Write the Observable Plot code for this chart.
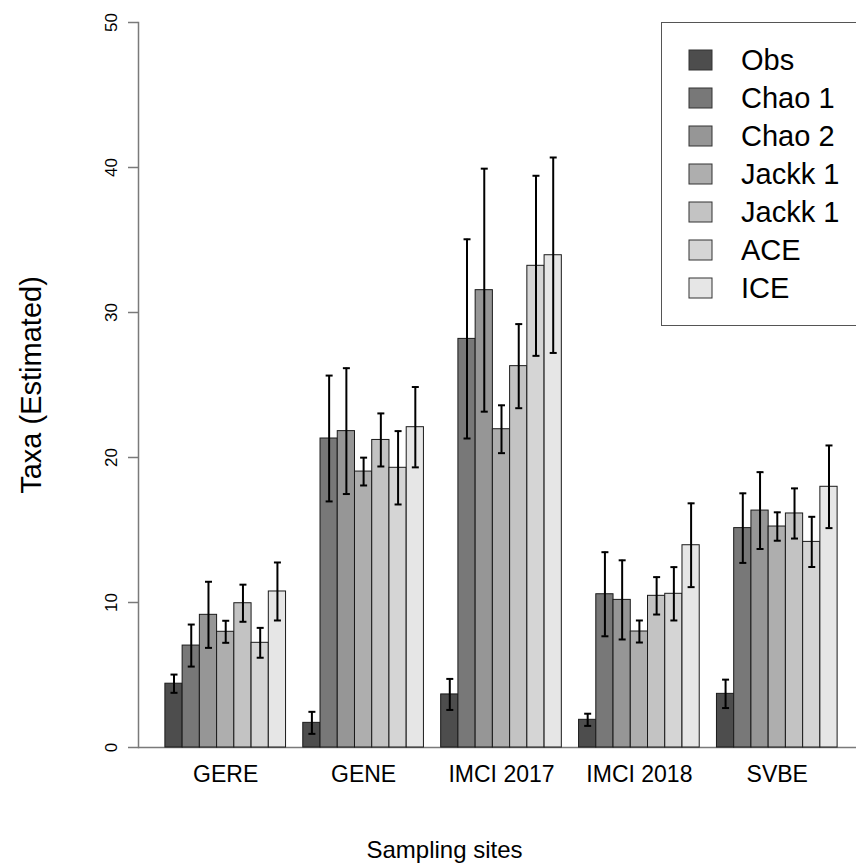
<!DOCTYPE html>
<html>
<head>
<meta charset="utf-8">
<script src="https://cdn.jsdelivr.net/npm/d3@7"></script>
<script src="https://cdn.jsdelivr.net/npm/@observablehq/plot@0.6"></script>
<style>
  html, body { margin: 0; padding: 0; background: #fff; overflow: hidden; }
  #chart { position: relative; width: 856px; height: 865px; overflow: hidden;
           font-family: "Liberation Sans", Arial, Helvetica, sans-serif; }
  #legend { position: absolute; left: 661px; top: 22px; width: 230px; height: 304px;
            box-sizing: border-box; border: 1px solid #555; background: #fff;
            padding: 18px 0 0 27px; }
  #legend .key-swatches { font-family: "Liberation Sans", Arial, Helvetica, sans-serif;
                          font-size: 29px; color: #000; margin: 0; }
  #legend .key-swatch { height: 38px; padding: 0; }
  #legend .key-swatch > svg { margin-right: 29px; }
  #legend .key-swatch rect { stroke: #333; stroke-width: 1; }
</style>
</head>
<body>
<div id="chart"></div>
<script>
// Sampling sites and richness estimators
const sites = ["GERE", "GENE", "IMCI 2017", "IMCI 2018", "SVBE"];
const estimators = ["obs", "chao1", "chao2", "jack1", "jack2", "ace", "ice"];
const estimatorLabels = ["Obs", "Chao 1", "Chao 2", "Jackk 1", "Jackk 1", "ACE", "ICE"];
const greys = ["#4D4D4D", "#787878", "#969696", "#AEAEAE", "#C3C3C3", "#D5D5D5", "#E6E6E6"];
const yTicks = [0, 10, 20, 30, 40, 50];
const xTitle = "Sampling sites";
const yTitle = "Taxa (Estimated)";

// Estimated number of taxa per site (order of `sites`)
const obsMean   = [4.40, 1.70, 3.66, 1.91, 3.70];
const chao1Mean = [7.03, 21.31, 28.18, 10.57, 15.13];
const chao2Mean = [9.15, 21.82, 31.54, 10.18, 16.34];
const jack1Mean = [7.98, 19.03, 21.95, 8.00, 15.24];
const jack2Mean = [9.95, 21.21, 26.30, 10.46, 16.14];
const aceMean   = [7.22, 19.29, 33.22, 10.60, 14.18];
const iceMean   = [10.76, 22.09, 33.95, 13.95, 17.98];

// Half-width of the error bars
const obsErr   = [0.63, 0.76, 1.07, 0.42, 0.98];
const chao1Err = [1.45, 4.34, 6.87, 2.90, 2.40];
const chao2Err = [2.28, 4.34, 8.38, 2.73, 2.65];
const jack1Err = [0.76, 0.96, 1.65, 0.76, 0.98];
const jack2Err = [1.28, 1.83, 2.90, 1.29, 1.73];
const aceErr   = [1.03, 2.53, 6.21, 1.84, 1.73];
const iceErr   = [2.00, 2.77, 6.74, 2.89, 2.85];

const means = [obsMean, chao1Mean, chao2Mean, jack1Mean, jack2Mean, aceMean, iceMean];
const errs  = [obsErr, chao1Err, chao2Err, jack1Err, jack2Err, aceErr, iceErr];

// Grouped layout in bar-width units: one empty slot before each site's group of bars
const slotsPerSite = estimators.length + 1;
const rows = sites.flatMap((site, i) =>
  estimators.map((est, j) => {
    const left = i * slotsPerSite + 1 + j;
    return {site, est, x1: left, x2: left + 1, xm: left + 0.5, value: means[j][i], err: errs[j][i]};
  })
);
const siteCenters = sites.map((s, i) => i * slotsPerSite + 1 + estimators.length / 2);
const siteAt = new Map(siteCenters.map((c, i) => [c, sites[i]]));
const xFirst = 1, xLast = sites.length * slotsPerSite;
const xPad = 0.04 * (xLast - xFirst);

const FONT = "'Liberation Sans', Arial, Helvetica, sans-serif";
const axisGrey = "#7a7a7a";
const errTop = d => d.value + d.err;
const errBottom = d => d.value - d.err;

// short horizontal stroke used as the error-bar cap
const capSymbol = {
  draw(context, size) {
    const w = Math.sqrt(size / Math.PI);
    context.moveTo(-w, 0);
    context.lineTo(w, 0);
  }
};

const chart = Plot.plot({
  width: 856,
  height: 865,
  marginTop: 22,
  marginRight: 0,
  marginBottom: 118,
  marginLeft: 138,
  style: {fontFamily: FONT, background: "#fff", color: "#000"},
  x: {domain: [xFirst - xPad, xLast + xPad], range: [138, 864]},
  y: {domain: [0, 50]},
  color: {domain: estimators, range: greys},
  marks: [
    // baseline at zero
    Plot.ruleY([0], {stroke: axisGrey, strokeWidth: 1.5}),
    // bars
    Plot.rectY(rows, {x1: "x1", x2: "x2", y: "value", fill: "est", stroke: "#1a1a1a", strokeWidth: 1}),
    // error bars with caps
    Plot.ruleX(rows, {x: "xm", y1: errBottom, y2: errTop, stroke: "#000", strokeWidth: 2}),
    Plot.dot(rows, {x: "xm", y: errTop, symbol: capSymbol, r: 3.5, stroke: "#000", strokeWidth: 2, fill: "none"}),
    Plot.dot(rows, {x: "xm", y: errBottom, symbol: capSymbol, r: 3.5, stroke: "#000", strokeWidth: 2, fill: "none"}),
    // y axis
    Plot.frame({anchor: "left", stroke: axisGrey, strokeWidth: 1.5}),
    Plot.axisY({ticks: yTicks, tickSize: 10, tickPadding: 12, tickRotate: -90,
                fontSize: 17, stroke: axisGrey, strokeWidth: 1.5, label: null}),
    Plot.text([yTitle], {frameAnchor: "left", dx: -107, rotate: -90,
                         fontSize: 29, textAnchor: "middle", lineAnchor: "middle"}),
    // site labels and x title
    Plot.axisX({ticks: siteCenters, tickFormat: d => siteAt.get(d), tickSize: 0, tickPadding: 18,
                fontSize: 23, label: null}),
    Plot.text([xTitle], {frameAnchor: "bottom-left", dx: 306, dy: 103,
                         fontSize: 24, textAnchor: "middle", lineAnchor: "middle"})
  ]
});

const labelOf = new Map(estimators.map((e, i) => [e, estimatorLabels[i]]));
const legend = Plot.legend({
  color: {domain: estimators, range: greys},
  legend: "swatches",
  columns: 1,
  swatchWidth: 23,
  swatchHeight: 20,
  className: "key",
  tickFormat: d => labelOf.get(d)
});

const container = document.getElementById("chart");
container.appendChild(chart);
const legendBox = document.createElement("div");
legendBox.id = "legend";
legendBox.appendChild(legend);
container.appendChild(legendBox);
</script>
</body>
</html>
